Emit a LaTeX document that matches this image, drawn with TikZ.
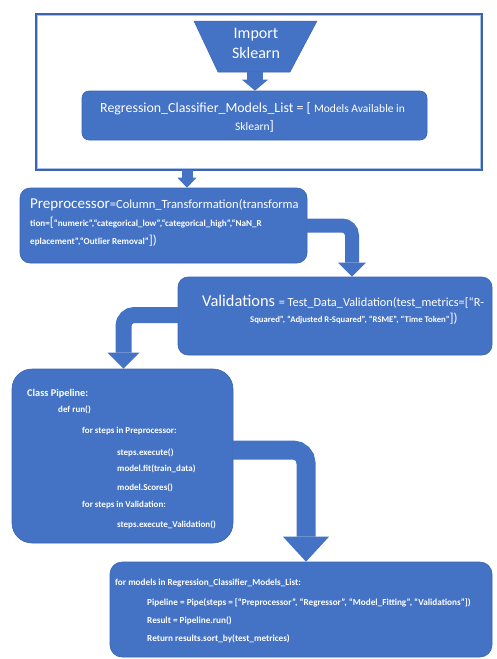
\documentclass[tikz,border=0pt]{standalone}
\usepackage{fontspec}
\setmainfont{Carlito}
\usetikzlibrary{arrows.meta}
\definecolor{boxblue}{HTML}{4472C4}
\definecolor{boxedge}{HTML}{3A64B0}
\definecolor{lightblue}{HTML}{A9C0E8}
\newcommand{\fs}[1]{\fontsize{#1}{#1}\selectfont}
\begin{document}
\begin{tikzpicture}[x=1pt,y=-1pt,
  box/.style={draw=boxedge, fill=boxblue, line width=0.6pt, inner sep=0pt},
  txt/.style={text=white, inner sep=0pt, anchor=base west},
  btxt/.style={text=white, inner sep=0pt, anchor=base west, font=\bfseries},
  ctxt/.style={text=white, inner sep=0pt, anchor=base},
  barrow/.style={draw=boxblue, line width=#1},
  tip/.style n args={2}{-{Triangle[length=#1,width=#2,line width=0pt]}}
]
\useasboundingbox (0,0) rectangle (496,659);
\fill[white] (0,0) rectangle (496,659);

% outer frame
\node[draw=boxedge, line width=2.4pt, minimum width=446pt, minimum height=156pt, inner sep=0pt] (frame) at (259,92) {};
\draw[lightblue, line width=1.4pt] ([shift={(2.6pt,-2.6pt)}]frame.north west) rectangle ([shift={(-2.6pt,2.6pt)}]frame.south east);

% import trapezium
\filldraw[fill=boxblue, draw=boxedge, line width=0.5pt] (194,21) -- (317,21) -- (290,72) -- (218,72) -- cycle;
\coordinate (impb) at (255,72);
\node[ctxt, align=center, font=\fs{16}, anchor=center] (imptxt) at (256,43) {Import\\[4pt]Sklearn};

% regression list
\node[box, rounded corners=7pt, minimum width=345pt, minimum height=49pt] (reg) at (254.5,115.5) {};
\node[txt] (reg1) at (100,112) {\fs{13.9}Regression\_Classifier\_Models\_List = [ \fs{11.5}Models Available in};
\node[txt] (reg2) at (235,130) {\fs{11.5}Sklearn\fs{13.9}]};

% preprocessor
\node[box, rounded corners=10pt, minimum width=287pt, minimum height=75pt] (pre) at (163.5,225.5) {};
\node[txt] (pre1) at (30,208) {\fs{15}Preprocessor\fs{12.5}=Column\_Transformation(transforma};
\node[btxt] (pre2) at (30,226) {\fs{9.1}tion=\fs{13}\mdseries[\bfseries\fs{9.1}“numeric”,“categorical\_low”,“categorical\_high”,“NaN\_R};
\node[btxt] (pre3) at (30,244) {\fs{9.1}eplacement”,“Outlier Removal”\mdseries\fs{13}])};

% validations
\node[box, rounded corners=10pt, minimum width=314pt, minimum height=78pt] (val) at (335,316) {};
\node[txt] (val1) at (202,306) {\fs{16.4}Validations \fs{12.3}= Test\_Data\_Validation(test\_metrics=[“R-};
\node[btxt] (val2) at (250,322) {\fs{8.7}Squared”, “Adjusted R-Squared”, “RSME”, “Time Token”\mdseries\fs{13}])};

% class pipeline
\node[box, rounded corners=20pt, minimum width=221pt, minimum height=174pt] (pipe) at (122.5,456) {};
\node[btxt] (p1) at (27,396) {\fs{10.3}Class Pipeline:};
\node[btxt] (p2) at (58,412) {\fs{9}def run()};
\node[btxt] (p3) at (82,433) {\fs{9}for steps in Preprocessor:};
\node[btxt] (p4) at (117,455) {\fs{9}steps.execute()};
\node[btxt] (p5) at (117,471) {\fs{9}model.fit(train\_data)};
\node[btxt] (p6) at (117,490) {\fs{9}model.Scores()};
\node[btxt] (p7) at (82,507) {\fs{9}for steps in Validation:};
\node[btxt] (p8) at (117,527) {\fs{9}steps.execute\_Validation()};

% final loop
\node[box, rounded corners=12pt, minimum width=382pt, minimum height=95pt] (fin) at (301,609.5) {};
\node[btxt] (f1) at (115,585) {\fs{9.2}for models in Regression\_Classifier\_Models\_List:};
\node[btxt] (f2) at (147,605) {\fs{9.2}Pipeline = Pipe(steps = [“Preprocessor”, “Regressor”, “Model\_Fitting”, “Validations”])};
\node[btxt] (f3) at (147,623) {\fs{9.2}Result = Pipeline.run()};
\node[btxt] (f4) at (147,641) {\fs{9.2}Return results.sort\_by(test\_metrices)};

% connectors (block arrows)
\draw[barrow=16pt, tip={11pt}{26pt}] (impb) -- (reg.north -| impb);
\coordinate (cb) at (187,0);
\draw[barrow=11pt, tip={10pt}{19pt}] ([yshift=1.2pt]frame.south -| cb) -- (pre.north -| cb);
\coordinate (cc) at (352,0);
\draw[barrow=14pt, tip={14pt}{28pt}, rounded corners=10pt] ([xshift=-1pt]pre.east) -| (val.north -| cc);
\coordinate (cd) at (123.5,0);
\draw[barrow=16pt, tip={16pt}{32pt}, rounded corners=11pt] ([xshift=1pt,yshift=1pt]val.west) -| (pipe.north -| cd);
\coordinate (ce) at (306,0);
\draw[barrow=19pt, tip={25pt}{46pt}, rounded corners=13pt] ([xshift=-1pt,yshift=6pt]pipe.east) -| (fin.north -| ce);
\end{tikzpicture}
\end{document}
